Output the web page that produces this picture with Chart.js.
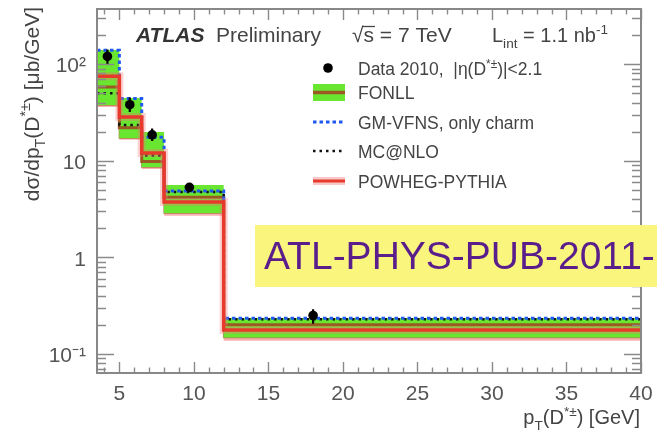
<!DOCTYPE html>
<html>
<head>
<meta charset="utf-8">
<script src="https://cdn.jsdelivr.net/npm/chart.js@4/dist/chart.umd.min.js"></script>
<style>
  html, body { margin: 0; padding: 0; background: #fff; }
  #wrap { width: 657px; height: 442px; }
</style>
</head>
<body>
<div id="wrap"><canvas id="dstar" width="657" height="442"></canvas></div>
<script>
'use strict';

// ── bins and measured cross sections, dσ/dpT in μb/GeV ──
const binEdges   = [3.5, 5, 6.5, 8, 12, 40];
const dataPt     = [4.2, 5.7, 7.2, 9.7, 18.0];   // mean pT of each bin
const dataVal    = [120, 38, 18.5, 5.3, 0.25];
const dataErrLo  = [100, 32, 16.0, 4.85, 0.205];
const dataErrHi  = [142, 45, 21.5, 5.85, 0.29];

// ── theory predictions per bin ──
const fonllHigh    = [140, 44.5, 19.8, 5.6, 0.236];
const fonllLow     = [37.7, 17.2, 8.6, 2.88, 0.148];
const fonllCentral = [58, 22, 9.8, 4.2, 0.2];
const gmvfns       = [139, 44, 17.5, 4.85, 0.234];
const mcnlo        = [50, 23.5, 11.3, 4.75, 0.229];
const powheg       = [75, 28.3, 12.0, 3.74, 0.177];
const powhegLow    = [36, 16.5, 8.2, 2.7, 0.137];

// ── axis ticks ──
const xTickValues = [5, 10, 15, 20, 25, 30, 35, 40];
const yTickValues = [0.1, 1, 10, 100];
const yTickLabels = ['10\u207B\u00B9', '1', '10', '10\u00B2'];

const legendNames = ['FONLL', 'GM-VFNS, only charm', 'MC@NLO', 'POWHEG-PYTHIA'];

const FONT = "'Liberation Sans', Arial, Helvetica, sans-serif";
const GREEN = '#68e630';
const BROWN = '#9a5a22';
const RED = '#e83a2c';
const PINK = 'rgba(244,150,150,0.75)';
const BLUE = '#1f58f0';

// histogram outline: two points per bin, verticals come for free
function steps(vals) {
  const pts = [];
  vals.forEach((v, i) => {
    pts.push({ x: binEdges[i], y: v }, { x: binEdges[i + 1], y: v });
  });
  return pts;
}

function errorSegments() {
  const pts = [];
  dataPt.forEach((x, i) => {
    pts.push({ x: x, y: dataErrLo[i] }, { x: x, y: dataErrHi[i] }, { x: x, y: null });
  });
  return pts;
}

// text with sub/superscripts, parts = [{t, s:'sub'|'sup'}]
function drawRich(ctx, x, y, parts, size, align, weight) {
  const w = weight || '';
  let total = 0;
  parts.forEach((p) => {
    const sz = p.s ? size * 0.68 : size;
    ctx.font = w + ' ' + sz + 'px ' + FONT;
    p.w = ctx.measureText(p.t).width;
    total += p.w;
  });
  let cx = align === 'right' ? x - total : x;
  ctx.textAlign = 'left';
  ctx.textBaseline = 'alphabetic';
  parts.forEach((p) => {
    const sz = p.s ? size * 0.68 : size;
    ctx.font = w + ' ' + sz + 'px ' + FONT;
    let dy = 0;
    if (p.s === 'sub') dy = size * 0.3;
    if (p.s === 'sup') dy = -size * 0.42;
    ctx.fillText(p.t, cx, y + dy);
    cx += p.w;
  });
  return total;
}

const lineBase = { pointRadius: 0, fill: false, tension: 0, spanGaps: false };

const datasets = [
  // 0: lower edge of POWHEG band (invisible)
  Object.assign({}, lineBase, { label: 'powhegLow', data: steps(powhegLow), borderWidth: 0, borderColor: 'transparent', order: 20 }),
  // 1: POWHEG band
  Object.assign({}, lineBase, { label: 'powhegBand', data: steps(powheg), borderWidth: 0, borderColor: 'transparent',
    fill: 0, backgroundColor: PINK, order: 19 }),
  // 2: lower edge of FONLL band
  Object.assign({}, lineBase, { label: 'fonllLow', data: steps(fonllLow), borderWidth: 1.5, borderColor: 'rgba(140,110,30,0.7)', order: 18 }),
  // 3: FONLL band
  Object.assign({}, lineBase, { label: 'fonllHigh', data: steps(fonllHigh), borderWidth: 0, borderColor: 'transparent',
    fill: 2, backgroundColor: GREEN, order: 17 }),
  // 4: FONLL central
  Object.assign({}, lineBase, { label: 'FONLL', data: steps(fonllCentral), borderWidth: 3, borderColor: BROWN, order: 16 }),
  // 5: MC@NLO
  Object.assign({}, lineBase, { label: 'MC@NLO', data: steps(mcnlo), borderWidth: 2.5, borderColor: '#111', borderDash: [2.5, 4], order: 15 }),
  // 6: GM-VFNS
  Object.assign({}, lineBase, { label: 'GM-VFNS', data: steps(gmvfns), borderWidth: 3, borderColor: BLUE, borderDash: [3.5, 3], order: 14 }),
  // 7: soft halo under the POWHEG line
  Object.assign({}, lineBase, { label: 'powhegHalo', data: steps(powheg), borderWidth: 8, borderColor: 'rgba(240,120,120,0.35)', order: 13 }),
  // 8: POWHEG central
  Object.assign({}, lineBase, { label: 'POWHEG-PYTHIA', data: steps(powheg), borderWidth: 3.5, borderColor: RED, order: 12 }),
  // 9: data error bars
  Object.assign({}, lineBase, { label: 'dataErr', data: errorSegments(), borderWidth: 2.2, borderColor: '#000', order: 2 }),
  // 10: data points
  { label: 'Data 2010', data: dataPt.map((x, i) => ({ x: x, y: dataVal[i] })), showLine: false,
    pointRadius: 4.8, pointBackgroundColor: '#000', pointBorderColor: '#000', borderWidth: 0, order: 1 },
];

// frame + inward ticks on all four sides
const frameTicks = {
  id: 'frameTicks',
  afterDatasetsDraw(chart) {
    const ctx = chart.ctx;
    const { left, right, top, bottom } = chart.chartArea;
    const xs = chart.scales.x, ys = chart.scales.y;
    ctx.save();
    ctx.strokeStyle = '#8a8a8a';
    ctx.lineWidth = 1.4;
    ctx.beginPath();
    for (let v = 4; v <= 40; v++) {
      const px = Math.round(xs.getPixelForValue(v)) + 0.5;
      const len = v % 5 === 0 ? 11 : 5.5;
      ctx.moveTo(px, bottom); ctx.lineTo(px, bottom - len);
      ctx.moveTo(px, top); ctx.lineTo(px, top + len);
    }
    for (let e = -2; e <= 2; e++) {
      for (let k = 1; k <= 9; k++) {
        const v = k * Math.pow(10, e);
        if (v < ys.min || v > ys.max) continue;
        const py = Math.round(ys.getPixelForValue(v)) + 0.5;
        const len = k === 1 ? 17 : 9;
        ctx.moveTo(left, py); ctx.lineTo(left + len, py);
        ctx.moveTo(right, py); ctx.lineTo(right - len, py);
      }
    }
    ctx.stroke();
    ctx.lineWidth = 2;
    ctx.strokeStyle = '#888';
    ctx.strokeRect(left, top, right - left, bottom - top);
    ctx.restore();
  },
  afterDraw(chart) {
    const ctx = chart.ctx;
    ctx.save();
    ctx.fillStyle = '#333';

    // header line
    ctx.textBaseline = 'alphabetic';
    ctx.textAlign = 'left';
    ctx.font = 'italic bold 21px ' + FONT;
    ctx.fillText('ATLAS', 136, 42);
    ctx.font = '21px ' + FONT;
    ctx.fillStyle = '#444';
    ctx.fillText('Preliminary', 216, 42);
    const rootW = ctx.measureText('\u221A').width;
    ctx.fillText('\u221A', 352, 42);
    const sW = ctx.measureText('s').width;
    ctx.fillText('s = 7 TeV', 352 + rootW, 42);
    ctx.strokeStyle = '#444';
    ctx.lineWidth = 1.3;
    ctx.beginPath();
    ctx.moveTo(352 + rootW - 1, 26.5);
    ctx.lineTo(352 + rootW + sW + 1, 26.5);
    ctx.stroke();
    drawRich(ctx, 492, 42, [{ t: 'L' }, { t: 'int', s: 'sub' }, { t: ' = 1.1 nb' }, { t: '-1', s: 'sup' }], 20, 'left');

    // legend
    const tx = 358;
    const rows = [75, 99, 129, 158, 188];
    ctx.fillStyle = '#000';
    ctx.beginPath();
    ctx.arc(328, 68, 4.8, 0, Math.PI * 2);
    ctx.fill();
    ctx.fillStyle = GREEN;
    ctx.fillRect(313, 84, 32, 17);
    ctx.strokeStyle = BROWN;
    ctx.lineWidth = 3.5;
    ctx.beginPath(); ctx.moveTo(313, 92.5); ctx.lineTo(345, 92.5); ctx.stroke();
    ctx.setLineDash([3.5, 3]);
    ctx.strokeStyle = BLUE;
    ctx.lineWidth = 3;
    ctx.beginPath(); ctx.moveTo(313, 122); ctx.lineTo(345, 122); ctx.stroke();
    ctx.setLineDash([2.5, 4]);
    ctx.strokeStyle = '#111';
    ctx.lineWidth = 2.5;
    ctx.beginPath(); ctx.moveTo(313, 151); ctx.lineTo(345, 151); ctx.stroke();
    ctx.setLineDash([]);
    ctx.strokeStyle = 'rgba(240,120,120,0.4)';
    ctx.lineWidth = 8;
    ctx.beginPath(); ctx.moveTo(313, 181); ctx.lineTo(345, 181); ctx.stroke();
    ctx.strokeStyle = RED;
    ctx.lineWidth = 3;
    ctx.beginPath(); ctx.moveTo(313, 181); ctx.lineTo(345, 181); ctx.stroke();

    ctx.fillStyle = '#444';
    drawRich(ctx, tx, rows[0], [{ t: 'Data 2010,  |\u03B7(D' }, { t: '*\u00B1', s: 'sup' }, { t: ')|<2.1' }], 17.5, 'left');
    ctx.font = '17.5px ' + FONT;
    legendNames.forEach((name, i) => ctx.fillText(name, tx, rows[i + 1]));

    // axis titles
    ctx.fillStyle = '#444';
    drawRich(ctx, 640, 424, [{ t: 'p' }, { t: 'T', s: 'sub' }, { t: '(D' }, { t: '*\u00B1', s: 'sup' }, { t: ') [GeV]' }], 20, 'right');
    ctx.save();
    ctx.translate(39, 7);
    ctx.rotate(-Math.PI / 2);
    drawRich(ctx, 0, 0, [{ t: 'd\u03C3/dp' }, { t: 'T', s: 'sub' }, { t: '(D' }, { t: '*\u00B1', s: 'sup' }, { t: ') [\u03BCb/GeV]' }], 21, 'right');
    ctx.restore();

    // note banner
    ctx.fillStyle = '#faf57c';
    ctx.fillRect(255, 225, 420, 62);
    ctx.fillStyle = '#5a1d8c';
    ctx.font = '39px ' + FONT;
    ctx.fillText('ATL-PHYS-PUB-2011-', 264, 269);
    ctx.restore();
  },
};

new Chart(document.getElementById('dstar'), {
  type: 'line',
  data: { datasets },
  options: {
    responsive: false,
    devicePixelRatio: 1,
    animation: false,
    layout: { padding: { left: 0, top: 9, right: 16, bottom: 0 } },
    plugins: { legend: { display: false }, tooltip: { enabled: false } },
    scales: {
      x: {
        type: 'linear',
        min: 3.5,
        max: 40,
        grid: { display: false, drawTicks: false },
        border: { display: false },
        afterBuildTicks: (s) => { s.ticks = xTickValues.map((v) => ({ value: v })); },
        afterFit: (s) => { s.height = 69; s.paddingLeft = 0; s.paddingRight = 0; },
        ticks: { font: { size: 21, family: FONT }, color: '#555', padding: 9, maxRotation: 0, autoSkip: false },
      },
      y: {
        type: 'logarithmic',
        min: 0.0635,
        max: 372,
        grid: { display: false, drawTicks: false },
        border: { display: false },
        afterBuildTicks: (s) => { s.ticks = yTickValues.map((v) => ({ value: v })); },
        afterFit: (s) => { s.width = 97; s.paddingTop = 0; s.paddingBottom = 0; },
        ticks: {
          font: { size: 21, family: FONT },
          color: '#555',
          padding: 11,
          labelOffset: 2.5,
          autoSkip: false,
          callback: (v) => { const i = yTickValues.indexOf(v); return i >= 0 ? yTickLabels[i] : ''; },
        },
      },
    },
  },
  plugins: [frameTicks],
});
</script>
</body>
</html>
